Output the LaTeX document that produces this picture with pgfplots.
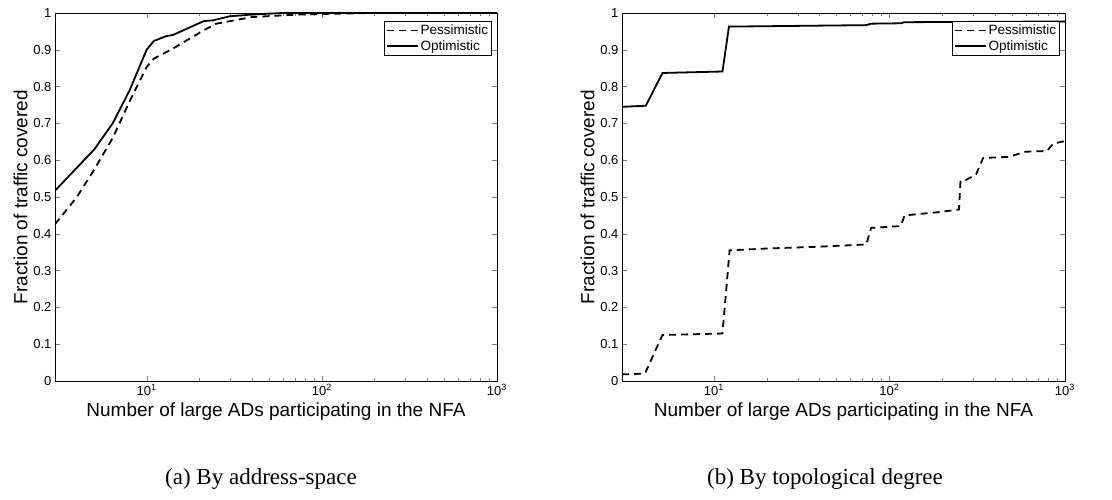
\documentclass[border=0pt]{standalone}
\usepackage{fontspec}
\setmainfont{Liberation Sans}
\newfontfamily\capfont{Liberation Serif}
\usepackage{pgfplots}
\pgfplotsset{compat=1.18}
\tikzset{
  pes/.style={black, line width=1.8pt, dash pattern=on 7pt off 5pt},
  opt/.style={black, line width=1.8pt},
}
\begin{document}
\begin{tikzpicture}
\path[use as bounding box] (0pt,0pt) rectangle (1112pt,500pt);
\begin{axis}[at={(55pt,119pt)}, width=442pt,
    xmode=log, xmin=3, xmax=1000, ymin=0, ymax=1,
    scale only axis, height=368pt,
    anchor=south west,
    xtick={10,100,1000},
    xticklabels={10\textsuperscript{1},10\textsuperscript{2},10\textsuperscript{3}},
    ytick={0,0.1,0.2,0.3,0.4,0.5,0.6,0.7,0.8,0.9,1},
    yticklabels={0,0.1,0.2,0.3,0.4,0.5,0.6,0.7,0.8,0.9,1},
    tick align=inside, xtick pos=both, ytick pos=both,
    major tick length=5pt, minor tick length=3pt,
    axis line style={line width=0.9pt},
    tick label style={font=\fontsize{13}{13}\selectfont},
    xlabel={Number of large ADs participating in the NFA},
    ylabel={Fraction of traffic covered},
    label style={font=\fontsize{19}{19}\selectfont},
    xlabel style={yshift=-1pt},
    ylabel style={yshift=-1pt},
    legend style={at={(1,1)}, anchor=north east, xshift=-5pt, yshift=-8pt,
      font=\fontsize{13.5}{13.5}\selectfont, draw=black, line width=0.9pt,
      inner sep=1.5pt, row sep=0pt},
    legend cell align=left,
    legend image code/.code={\draw[#1, line width=1.8pt] (0pt,0pt) -- (31pt,0pt);},
]
\addplot[pes] coordinates {
(3,0.426) (4,0.5) (5,0.573) (6.4,0.66) (8,0.76) (10,0.853) (11,0.876) (14.1,0.903)
(21.2,0.953) (25,0.971) (40,0.989) (75,0.996) (116,0.998) (200,1.0) (1000,1.0)};
\addlegendentry{Pessimistic}
\addplot[opt] coordinates {
(3,0.517) (5.04,0.630) (6.4,0.70) (8,0.79) (10,0.90) (11,0.924) (13,0.9375) (14.1,0.94)
(21.2,0.978) (23.9,0.98) (29.8,0.991) (40.5,0.996) (60,1.0) (1000,1.0)};
\addlegendentry{Optimistic}
\end{axis}
\begin{axis}[at={(622pt,119pt)}, width=443pt,
    xmode=log, xmin=3, xmax=1000, ymin=0, ymax=1,
    scale only axis, height=368pt,
    anchor=south west,
    xtick={10,100,1000},
    xticklabels={10\textsuperscript{1},10\textsuperscript{2},10\textsuperscript{3}},
    ytick={0,0.1,0.2,0.3,0.4,0.5,0.6,0.7,0.8,0.9,1},
    yticklabels={0,0.1,0.2,0.3,0.4,0.5,0.6,0.7,0.8,0.9,1},
    tick align=inside, xtick pos=both, ytick pos=both,
    major tick length=5pt, minor tick length=3pt,
    axis line style={line width=0.9pt},
    tick label style={font=\fontsize{13}{13}\selectfont},
    xlabel={Number of large ADs participating in the NFA},
    ylabel={Fraction of traffic covered},
    label style={font=\fontsize{19}{19}\selectfont},
    xlabel style={yshift=-1pt},
    ylabel style={yshift=-1pt},
    legend style={at={(1,1)}, anchor=north east, xshift=-5pt, yshift=-8pt,
      font=\fontsize{13.5}{13.5}\selectfont, draw=black, line width=0.9pt,
      inner sep=1.5pt, row sep=0pt},
    legend cell align=left,
    legend image code/.code={\draw[#1, line width=1.8pt] (0pt,0pt) -- (31pt,0pt);},
]
\addplot[pes] coordinates {
(3,0.018) (4.05,0.020) (5.1,0.125) (11.2,0.129) (12.3,0.355) (20,0.360) (40,0.365)
(73.8,0.371) (78.7,0.416) (116,0.421) (122,0.450) (192,0.459) (249,0.466) (254,0.543)
(270,0.545) (312,0.562) (342,0.606) (478,0.609) (594,0.623) (787,0.625) (859,0.645) (1000,0.652)};
\addlegendentry{Pessimistic}
\addplot[opt] coordinates {
(3,0.745) (4.1,0.748) (5.1,0.837) (11.2,0.841) (12.2,0.963) (73.8,0.967) (78.7,0.971)
(116,0.972) (122,0.975) (1000,0.977)};
\addlegendentry{Optimistic}
\end{axis}
\node[font=\capfont\fontsize{23}{23}\selectfont] at (261pt,21pt) {(a) By address-space};
\node[font=\capfont\fontsize{23}{23}\selectfont] at (825pt,21pt) {(b) By topological degree};
\end{tikzpicture}
\end{document}
